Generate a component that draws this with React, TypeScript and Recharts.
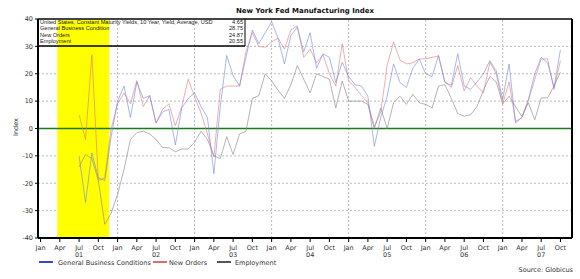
import { LineChart, Line, XAxis, YAxis, CartesianGrid, ReferenceArea, ReferenceLine } from 'recharts'

// months are counted from Jan 2001 (= 0)
const years = ['01', '02', '03', '04', '05', '06', '07']
const quarters = ['Jan', 'Apr', 'Jul', 'Oct']
const firstMonth = 6 // Jul 2001
const recession = [2.6, 10.7] // Mar - Nov 2001
const yearStarts = [12, 24, 36, 48, 60, 72]
const yTicks = [-40, -30, -20, -10, 0, 10, 20, 30, 40]

const generalBusiness = [
  -10, -27, -9, -18, -19, -3,
  10, 15.5, 4, 17, 11, 12, 2, 6, 7, -6, 7.5, 11,
  13, 8, 4, -16.5, 8, 26.7, 19.3, 15.5, 26, 36, 31, 35,
  39, 33, 23.6, 34, 37, 28, 35, 22, 27.3, 26, 16.8, 24.2,
  19, 16, 15.5, 11.8, -6.5, 4, 11.8, 23.6, 16.8, 15, 22, 25.4,
  20, 19, 26.7, 16.8, 15.8, 27.3, 15.5, 14.3, 17, 20, 24.8, 21,
  10.6, 23.6, 2, 4, 10.6, 20, 26, 24, 15, 28.75,
]
const newOrders = [
  5, -4, 27, -19, -18, 0,
  9, 13, 9, 17.5, 8, 12, 2, 7, 9, 1, 8, 18,
  11.6, 5.7, -2, -10.4, 14.3, 15.5, 15.5, 15.5, 28, 35, 30, 29.7,
  31.6, 33, 29, 36, 37.5, 26, 29, 24, 27, 20, 15.5, 31,
  17.4, 15, 12, 9.4, 0.7, 6, 23, 31.6, 25, 23.6, 24, 25.4,
  25.5, 26, 26.5, 17, 15, 23, 13.7, 18.6, 15.5, 13, 24.2, 20,
  9, 17, 2.6, 4, 10, 18, 25.4, 25.4, 14.3, 24.87,
]
const employment = [
  -14, -9.5, -11, -19, -35, -31,
  -24, -15, -4, -1.5, -1, -2, -4, -7, -7, -8.5, -7.5, -7.5,
  -5, -1, -4, -10, -11, -3, -9.5, -2, -1, 11, 12, 20,
  17.4, 14, 11, 16, 23, 18, 13, 20, 19, 18, 7.5, 17.4,
  10, 10, 10, 8.8, 0, 7.5, 0, 9.4, 11.8, 8.8, 12.5, 9.4,
  8.8, 7.5, 15.5, 16, 11, 5.5, 4.5, 5, 8, 14, 19, 17,
  9, 11.8, 8, 4.4, 9.4, 3.2, 11.2, 11.2, 15.5, 20.55,
]

const boxRows = [
  ['United States, Constant Maturity Yields, 10 Year, Yield, Average, USD', '4.65'],
  ['General Business Condition', '28.75'],
  ['New Orders', '24.87'],
  ['Employment', '20.55'],
]
const legendItems = [
  { name: 'General Business Conditions', color: '#3b44c6', x: 39, tx: 58 },
  { name: 'New Orders', color: '#e36a6a', x: 153, tx: 169 },
  { name: 'Employment', color: '#555555', x: 217, tx: 235 },
]

const data = generalBusiness.map((v, i) => ({
  m: firstMonth + i,
  gbc: v,
  no: newOrders[i],
  emp: employment[i],
}))

const monthTicks = years.flatMap((_, yi) => quarters.map((_, qi) => yi * 12 + qi * 3))

const FONT = 'DejaVu Sans, Verdana, sans-serif'
const NARROW = 'Liberation Sans, Arial, sans-serif'

function MonthTick({ x, y, payload }: any) {
  const m = payload.value
  const q = quarters[(m % 12) / 3]
  const yr = m % 12 === 6 ? years[Math.floor(m / 12)] : null
  return (
    <g transform={`translate(${x},${y})`}>
      <text y={6} textAnchor="middle" fontSize={6.5} fill="#333" fontFamily={FONT}>{q}</text>
      {yr && <text y={13} textAnchor="middle" fontSize={6.5} fill="#333" fontFamily={FONT}>{yr}</text>}
    </g>
  )
}

export default function App() {
  return (
    <div style={{ position: 'absolute', left: 0, top: 0, width: 580, height: 279, background: '#fff' }}>
      <LineChart width={580} height={279} data={data} margin={{ top: 19, right: 8, bottom: 11, left: 0 }}>
        <ReferenceArea x1={recession[0]} x2={recession[1]} y1={-40} y2={40} fill="#ffff00" fillOpacity={1} stroke="none" />
        <CartesianGrid vertical={false} stroke="#bbb" strokeDasharray="2 2" />
        {yearStarts.map(m => (
          <ReferenceLine key={m} x={m} stroke="#bbb" strokeDasharray="2 2" />
        ))}
        <XAxis
          type="number"
          dataKey="m"
          domain={[-0.4, 82.8]}
          ticks={monthTicks}
          interval={0}
          height={30}
          tick={<MonthTick />}
          tickSize={4}
          tickMargin={2}
          stroke="#000"
          strokeWidth={2}
          tickLine={{ stroke: '#000', strokeWidth: 1 }}
        />
        <YAxis
          type="number"
          domain={[-40, 40]}
          ticks={yTicks}
          width={38}
          tickSize={3}
          tickMargin={2}
          stroke="#000"
          strokeWidth={2}
          tickLine={{ stroke: '#000', strokeWidth: 1 }}
          tick={{ fontSize: 6.5, fill: '#333', fontFamily: FONT }}
        />
        <ReferenceLine y={0} stroke="#1b7a1b" strokeWidth={1.5} />
        <ReferenceLine y={40} stroke="#444" strokeWidth={2} />
        <ReferenceLine x={82.8} stroke="#000" strokeWidth={2} />
        <Line type="linear" dataKey="emp" stroke="#8c8c8c" strokeOpacity={0.65} strokeWidth={1} dot={false} isAnimationActive={false} />
        <Line type="linear" dataKey="no" stroke="#e07a7a" strokeOpacity={0.6} strokeWidth={1} dot={false} isAnimationActive={false} />
        <Line type="linear" dataKey="gbc" stroke="#7087e4" strokeOpacity={0.6} strokeWidth={1} dot={false} isAnimationActive={false} />
      </LineChart>

      <svg width={580} height={279} style={{ position: 'absolute', left: 0, top: 0, pointerEvents: 'none' }}>
        <text x={305} y={13} textAnchor="middle" fontSize={7} fontWeight="bold" fill="#111" fontFamily={FONT}>
          New York Fed Manufacturing Index
        </text>
        <line x1={38} y1={46} x2={245} y2={46} stroke="#000" strokeWidth={1.5} />
        <line x1={245} y1={19} x2={245} y2={46} stroke="#000" strokeWidth={1} />
        {boxRows.map((r, i) => (
          <g key={r[0]} fontSize={5.6} fill="#222" fontFamily={NARROW}>
            <text x={40} y={23.5 + i * 6.5}>{r[0]}</text>
            <text x={243} y={23.5 + i * 6.5} textAnchor="end">{r[1]}</text>
          </g>
        ))}
        <text x={18} y={127} transform="rotate(-90 18 127)" textAnchor="middle" fontSize={6.5} fill="#333" fontFamily={FONT}>
          Index
        </text>
        {legendItems.map(it => (
          <g key={it.name}>
            <line x1={it.x} y1={262} x2={it.x + 14} y2={262} stroke={it.color} strokeWidth={2} />
            <text x={it.tx} y={264.5} fontSize={6.5} fill="#333" fontFamily={FONT}>{it.name}</text>
          </g>
        ))}
        <text x={573} y={272} textAnchor="end" fontSize={6.5} fill="#333" fontFamily={FONT}>Source: Globicus</text>
      </svg>
    </div>
  )
}
